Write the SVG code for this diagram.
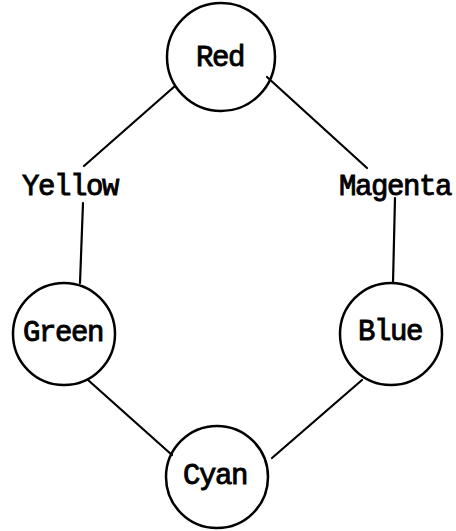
<svg xmlns="http://www.w3.org/2000/svg" width="456" height="531" viewBox="0 0 456 531">
<style>
.node{fill:none;stroke:#000;stroke-width:2.5}
.edge{stroke:#000;stroke-width:2.2;fill:none;stroke-linecap:round}
text{font-family:"Liberation Mono","Courier New",monospace;font-size:29px;letter-spacing:-1.4px;fill:#000;stroke:#000;stroke-width:0.9px;text-anchor:middle}
</style>
<rect width="456" height="531" fill="#fff"/>
<g id="connectors">
<line class="edge" x1="175" y1="86" x2="84" y2="166"/>
<line class="edge" x1="267" y1="77" x2="367" y2="168"/>
<line class="edge" x1="83" y1="203" x2="80" y2="283"/>
<line class="edge" x1="395" y1="198" x2="393" y2="283"/>
<line class="edge" x1="88" y1="380" x2="172" y2="455"/>
<line class="edge" x1="362" y1="380" x2="272" y2="458"/>
</g>
<g id="red"><circle class="node" cx="221" cy="57" r="54"/><text x="220" y="66">Red</text></g>
<g id="yellow"><text x="70" y="195">Yellow</text></g>
<g id="magenta"><text x="395" y="195">Magenta</text></g>
<g id="green"><circle class="node" cx="64" cy="334" r="51"/><text x="63" y="341">Green</text></g>
<g id="blue"><circle class="node" cx="391" cy="334" r="51"/><text x="390" y="340">Blue</text></g>
<g id="cyan"><circle class="node" cx="217" cy="477" r="51"/><text x="215" y="484">Cyan</text></g>
</svg>
